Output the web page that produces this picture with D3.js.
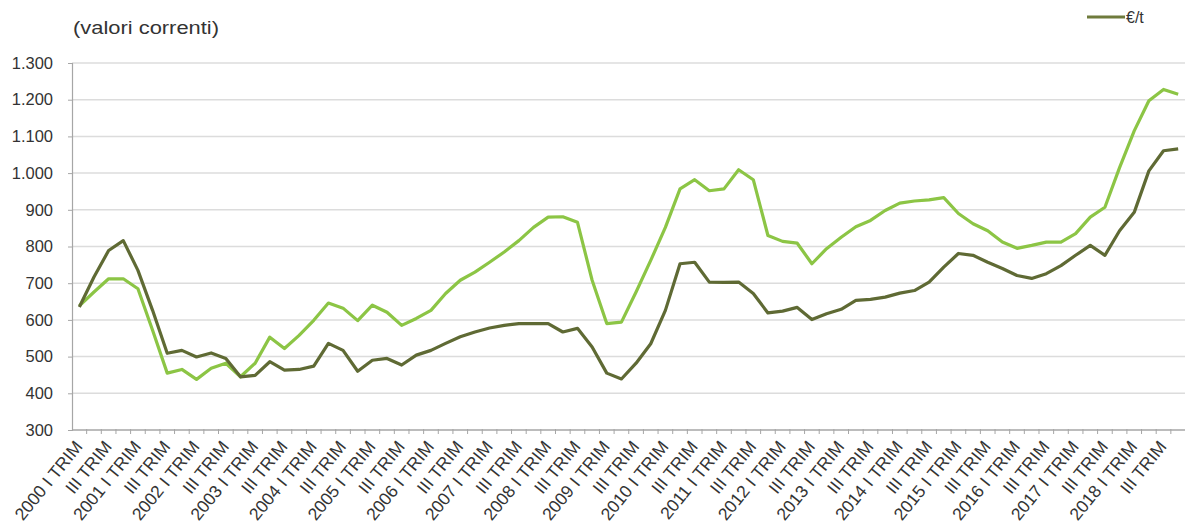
<!DOCTYPE html>
<html>
<head>
<meta charset="utf-8">
<script src="https://cdn.jsdelivr.net/npm/d3@7"></script>
<style>
  html, body { margin: 0; padding: 0; background: #ffffff; }
  svg { display: block; font-family: "Liberation Sans", Arial, sans-serif; }
</style>
</head>
<body>
<svg id="chart" width="1185" height="528"></svg>
<script>
// Quarterly periods, 2000 Q1 – 2018 Q4
const years = d3.range(2000, 2019);
const quarterNames = ["I", "II", "III", "IV"];
const periods = years.flatMap(y => quarterNames.map(q => `${y} ${q} TRIM`));

// Axis labels shown every second quarter
const xTickLabels = periods.map((p, i) => {
  if (i % 4 === 0) return p;
  if (i % 4 === 2) return "III TRIM";
  return null;
});

const yTicks = [300, 400, 500, 600, 700, 800, 900, 1000, 1100, 1200, 1300];

// €/t series (dark line)
const seriesDark = [
  635, 717, 789, 816, 735, 626, 509, 517, 499, 510,
  495, 445, 449, 486, 463, 465, 474, 536, 517, 460,
  490, 495, 477, 504, 517, 536, 554, 567, 578, 585,
  590, 590, 590, 567, 577, 526, 455, 439, 482, 535,
  626, 753, 757, 703, 702, 703, 672, 619, 624, 634,
  601, 617, 629, 653, 656, 662, 673, 680, 703, 744,
  781, 776, 757, 740, 721, 713, 726, 748, 776, 803,
  776, 843, 893, 1006, 1061, 1066
];

// Second series (light line)
const seriesLight = [
  638, 676, 712, 712, 685, 572, 455, 465, 438, 468,
  482, 445, 482, 553, 522, 558, 599, 646, 632, 598,
  640, 621, 585, 604, 626, 672, 708, 730, 757, 785,
  816, 852, 880, 881, 866, 708, 590, 594, 676, 762,
  852, 957, 982, 952, 957, 1009, 982, 830, 814, 809,
  753, 794, 825, 854, 871, 898, 918, 924, 927, 933,
  890, 862, 843, 812, 795, 803, 812, 812, 835, 880,
  907, 1015, 1115, 1197, 1228, 1215
];

const svg = d3.select("#chart");
const plotLeft = 72, plotRight = 1185.5, plotTop = 63, plotBottom = 430;

const x = d3.scalePoint().domain(periods).range([plotLeft, plotRight]).padding(0.5);
const step = x.step();
const y = d3.scaleLinear().domain([300, 1300]).range([plotBottom, plotTop]);

const itLocale = d3.formatLocale({ decimal: ",", thousands: ".", grouping: [3], currency: ["", "€"] });
const fmt = itLocale.format(",");

// Horizontal gridlines
svg.append("g")
  .selectAll("line")
  .data(yTicks.filter(v => v > 300))
  .join("line")
  .attr("x1", plotLeft).attr("x2", plotRight)
  .attr("y1", d => y(d)).attr("y2", d => y(d))
  .attr("stroke", "#dcdcdc")
  .attr("stroke-width", 1.5);

// Y axis
const yAxis = svg.append("g")
  .attr("transform", `translate(${plotLeft},0)`)
  .call(d3.axisLeft(y).tickValues(yTicks).tickFormat(fmt).tickSize(4).tickPadding(15));
yAxis.select(".domain").attr("stroke", "#a6a6a6").attr("stroke-width", 1.2);
yAxis.selectAll(".tick line").attr("stroke", "#a6a6a6");
yAxis.selectAll(".tick text")
  .attr("font-size", 16.5)
  .attr("fill", "#333333")
  .attr("font-family", "Liberation Sans, Arial, sans-serif");

// X axis line with quarter boundary ticks
const xg = svg.append("g");
xg.append("line")
  .attr("x1", plotLeft).attr("x2", plotRight)
  .attr("y1", plotBottom).attr("y2", plotBottom)
  .attr("stroke", "#a6a6a6").attr("stroke-width", 1.5);
xg.selectAll("line.qt")
  .data(periods)
  .join("line")
  .attr("class", "qt")
  .attr("x1", d => x(d) + step / 2).attr("x2", d => x(d) + step / 2)
  .attr("y1", plotBottom - 1).attr("y2", plotBottom + 4)
  .attr("stroke", "#a6a6a6");

// Rotated category labels
xg.selectAll("text.xl")
  .data(periods.map((p, i) => ({ p, label: xTickLabels[i] })).filter(d => d.label))
  .join("text")
  .attr("class", "xl")
  .attr("text-anchor", "end")
  .attr("font-size", 17.5)
  .attr("fill", "#333333")
  .attr("transform", d => `translate(${x(d.p) + 4},${plotBottom + 17}) rotate(-51)`)
  .text(d => d.label);

// Lines
const line = d3.line().x((d, i) => x(periods[i])).y(d => y(d));

svg.append("path")
  .datum(seriesLight)
  .attr("fill", "none")
  .attr("stroke", "#8cc545")
  .attr("stroke-width", 3.2)
  .attr("stroke-linejoin", "round")
  .attr("d", line);

svg.append("path")
  .datum(seriesDark)
  .attr("fill", "none")
  .attr("stroke", "#5f6a34")
  .attr("stroke-width", 3.2)
  .attr("stroke-linejoin", "round")
  .attr("d", line);

// Title
svg.append("text")
  .attr("x", 73).attr("y", 34)
  .attr("font-size", 17.5)
  .attr("fill", "#333333")
  .attr("textLength", 146)
  .attr("lengthAdjust", "spacingAndGlyphs")
  .text("(valori correnti)");

// Legend
svg.append("line")
  .attr("x1", 1087).attr("x2", 1125)
  .attr("y1", 17).attr("y2", 17)
  .attr("stroke", "#6f7b3c").attr("stroke-width", 3);
svg.append("text")
  .attr("x", 1126).attr("y", 23)
  .attr("font-size", 16)
  .attr("fill", "#333333")
  .text("€/t");
</script>
</body>
</html>
